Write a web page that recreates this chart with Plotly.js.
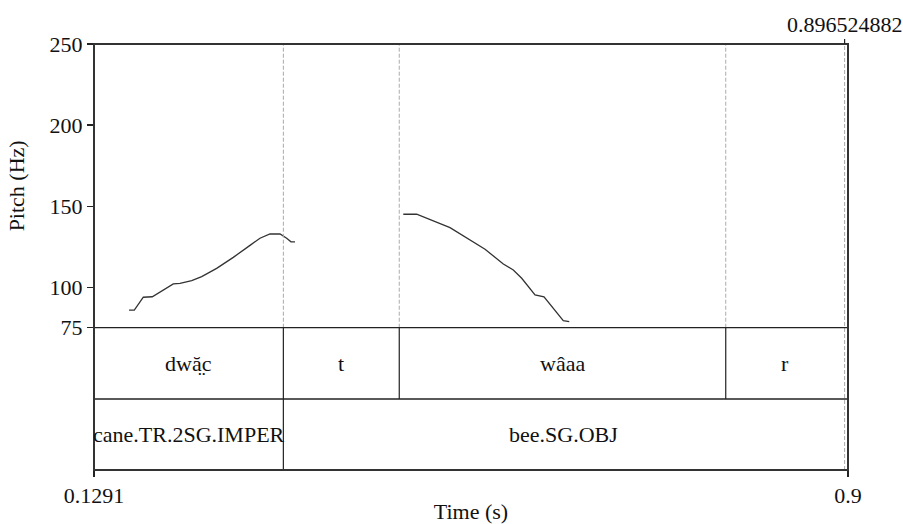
<!DOCTYPE html>
<html>
<head>
<meta charset="utf-8">
<script src="https://cdn.plot.ly/plotly-3.0.1.min.js"></script>
<style>body{margin:0;padding:0;background:#fff}#chart{width:903px;height:524px}</style>
</head>
<body>
<div id="chart"></div>
<script>
// Pitch contour (two voiced stretches)
const pitchTime1 = [0.1649,0.1703,0.1795,0.1887,0.2102,0.2170,0.2290,0.2392,0.2545,0.2715,0.2886,0.2988,0.3090,0.3193,0.3261,0.3305,0.3346];
const pitchHz1   = [85.9,85.9,93.8,94.1,102.0,102.4,104.0,106.5,111.6,118.4,125.8,130.2,132.8,132.8,130.2,128.0,127.9];
const pitchTime2 = [0.4453,0.4590,0.4931,0.5289,0.5476,0.5578,0.5664,0.5800,0.5892,0.5953,0.6089,0.6150];
const pitchHz2   = [145.0,145.0,136.7,123.4,114.3,110.6,105.5,95.2,94.1,89.6,79.3,78.7];

// TextGrid tiers
const tier1Bounds = [0.1291,0.3227,0.4412,0.7750,0.896524882];
const tier1Labels = ["dwa\u0324\u0306c","t","w\u00e2aa","r"];
const tier2Bounds = [0.1291,0.3227,0.896524882];
const tier2Labels = ["cane.TR.2SG.IMPER","bee.SG.OBJ"];

const xStart = 0.1291, xEnd = 0.9, gridEnd = 0.896524882;
const yTicks = [75,100,150,200,250];

const FONT = "'Liberation Serif', 'Times New Roman', Times, serif";
const FS = 22;
const INK = "#222";
const pitchBottom = 0.334, tierSplit = 0.1667;
const tier1Mid = (pitchBottom + tierSplit)/2, tier2Mid = tierSplit/2;

const traces = [
  {x: pitchTime1, y: pitchHz1, type:'scatter', mode:'lines', line:{color:'#333', width:1.3}, hoverinfo:'skip', showlegend:false},
  {x: pitchTime2, y: pitchHz2, type:'scatter', mode:'lines', line:{color:'#333', width:1.3}, hoverinfo:'skip', showlegend:false}
];

const shapes = [];
const annotations = [];
const inner1 = tier1Bounds.slice(1, -1);
inner1.forEach(t => shapes.push({type:'line', xref:'x', yref:'paper', x0:t, x1:t, y0:pitchBottom, y1:1, line:{color:'#aaa', width:1, dash:'4px,2px'}}));
shapes.push({type:'line', xref:'x', yref:'paper', x0:gridEnd, x1:gridEnd, y0:0, y1:1, line:{color:'#aaa', width:1, dash:'4px,2px'}});
inner1.forEach(t => shapes.push({type:'line', xref:'x', yref:'paper', x0:t, x1:t, y0:tierSplit, y1:pitchBottom, line:{color:INK, width:1.2}}));
tier2Bounds.slice(1, -1).forEach(t => shapes.push({type:'line', xref:'x', yref:'paper', x0:t, x1:t, y0:0, y1:tierSplit, line:{color:INK, width:1.2}}));
shapes.push({type:'line', xref:'paper', yref:'paper', x0:0, x1:1, y0:pitchBottom, y1:pitchBottom, line:{color:INK, width:1.3}});
shapes.push({type:'line', xref:'paper', yref:'paper', x0:0, x1:1, y0:tierSplit, y1:tierSplit, line:{color:INK, width:1.3}});
shapes.push({type:'rect', xref:'paper', yref:'paper', x0:0, x1:1, y0:0, y1:1, line:{color:'#333', width:2}, fillcolor:'rgba(0,0,0,0)'});
shapes.push({type:'line', xref:'x', yref:'paper', x0:gridEnd, x1:gridEnd, y0:1, y1:1+5/426, line:{color:INK, width:1.2}});

annotations.push({x:gridEnd, xref:'x', y:1, yref:'paper', yshift:5, yanchor:'bottom', text:String(gridEnd), showarrow:false, font:{family:FONT, size:FS, color:'#111'}});

for (let i=0;i<tier1Labels.length;i++) {
  annotations.push({x:(tier1Bounds[i]+tier1Bounds[i+1])/2, xref:'x', y:tier1Mid, yref:'paper', yanchor:'middle', text:tier1Labels[i], showarrow:false, font:{family:FONT, size:FS, color:'#111'}});
}
for (let i=0;i<tier2Labels.length;i++) {
  annotations.push({x:(tier2Bounds[i]+tier2Bounds[i+1])/2, xref:'x', y:tier2Mid, yref:'paper', yanchor:'middle', text:tier2Labels[i], showarrow:false, font:{family:FONT, size:FS, color:'#111'}});
}

const layout = {
  width:903, height:524,
  margin:{l:94, r:55, t:44, b:54},
  paper_bgcolor:'#fff', plot_bgcolor:'#fff',
  font:{family:FONT, size:FS, color:'#111'},
  xaxis:{range:[xStart,xEnd], anchor:'free', position:0, showgrid:false, zeroline:false, showline:false,
         tickvals:[xStart,xEnd], ticktext:[String(xStart), String(xEnd)], ticks:'outside', ticklen:6, tickwidth:1.2, tickcolor:INK,
         tickfont:{family:FONT, size:FS, color:'#111'},
         title:{text:'Time (s)', font:{family:FONT, size:FS, color:'#111'}, standoff:0}},
  yaxis:{domain:[pitchBottom,1], range:[75,250], showgrid:false, zeroline:false, showline:false,
         tickvals:yTicks, ticktext:yTicks.map(String), ticks:'outside', ticklen:6, tickwidth:1.2, tickcolor:INK,
         tickfont:{family:FONT, size:FS, color:'#111'},
         title:{text:'Pitch (Hz)', font:{family:FONT, size:FS, color:'#111'}, standoff:18}},
  shapes:shapes, annotations:annotations, showlegend:false
};

Plotly.newPlot('chart', traces, layout, {staticPlot:true, displayModeBar:false});
</script>
</body>
</html>
